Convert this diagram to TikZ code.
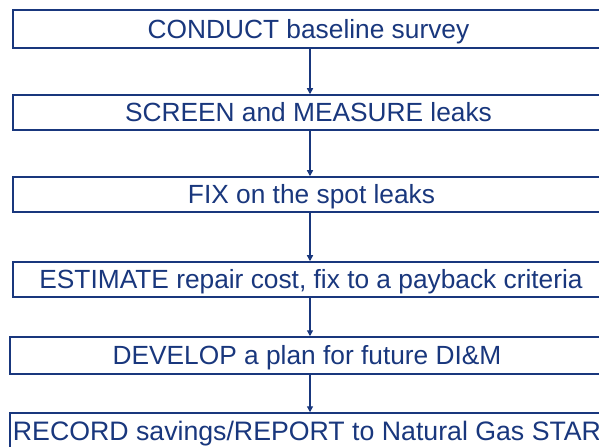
\documentclass[tikz,border=0pt]{standalone}
\usepackage{fontspec}
\setmainfont{Liberation Sans}
\usetikzlibrary{arrows.meta}
\definecolor{navy}{RGB}{25,55,125}
\begin{document}
\begin{tikzpicture}[x=1bp,y=-1bp,
  stepbox/.style={draw=navy, line width=1.5bp, fill=white, rectangle, inner sep=0pt,
    text=navy, font=\fontsize{26.3bp}{30bp}\selectfont, text height=18.8bp, text depth=0pt},
  arr/.style={draw=navy, line width=1.3bp, -{Triangle[length=6bp,width=6bp]}}]
\useasboundingbox (0,0) rectangle (599,447);
\clip (0,0) rectangle (599,447);
\node[stepbox, minimum width=591bp, minimum height=38bp] (b1) at (308.5,29) {CONDUCT baseline survey};
\node[stepbox, minimum width=591bp, minimum height=35bp] (b2) at (308.5,112.5) {SCREEN and MEASURE leaks};
\node[stepbox, minimum width=597bp, minimum height=35bp] (b3) at (311.5,194.5) {FIX on the spot leaks};
\node[stepbox, minimum width=596bp, minimum height=35bp] (b4) at (311,279.5) {ESTIMATE repair cost, fix to a payback criteria};
\node[stepbox, minimum width=594bp, minimum height=37bp] (b5) at (307,355.5) {DEVELOP a plan for future DI\&M};
\node[stepbox, minimum width=594bp, minimum height=37bp, font=\fontsize{26.7bp}{30bp}\selectfont] (b6) at (307,431.5) {RECORD savings/REPORT to Natural Gas STAR};
\coordinate (ax) at (310,0);
\draw[arr] (b1.south -| ax) -- (b2.north -| ax);
\draw[arr] (b2.south -| ax) -- (b3.north -| ax);
\draw[arr] (b3.south -| ax) -- (b4.north -| ax);
\draw[arr] (b4.south -| ax) -- (b5.north -| ax);
\draw[arr] (b5.south -| ax) -- (b6.north -| ax);
\end{tikzpicture}
\end{document}
